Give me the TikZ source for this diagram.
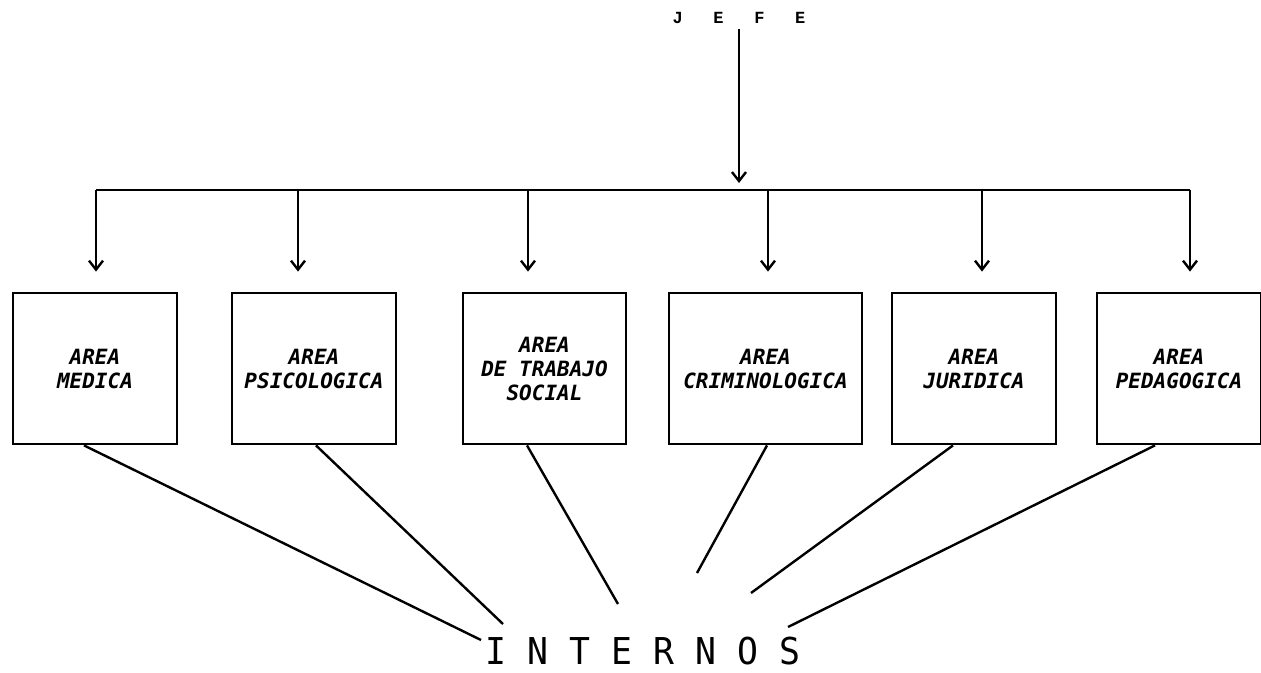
\documentclass[tikz,border=0pt]{standalone}
\usepackage{fontspec}
\usepackage{tikz}
\usetikzlibrary{arrows.meta,positioning,calc}
\newfontfamily\areafont{DejaVu Sans Mono}
\newfontfamily\jefefont{Liberation Mono}
\newfontfamily\internosfont{DejaVu Sans Mono}[FakeStretch=0.94]

\tikzset{
  area/.style={draw, line width=2.8pt, minimum height=151pt, inner sep=0pt, align=center,
    font=\areafont\bfseries\itshape\fontsize{21}{24}\selectfont},
  drop/.style={->, line width=2.4pt, shorten >=20pt},
  link/.style={line width=2.4pt}
}

\begin{document}
\begin{tikzpicture}[x=1pt, y=-1pt, >={Straight Barb[length=9pt,width=14pt]}, thick]
\useasboundingbox[fill=white] (0,0) rectangle (1261,672);
\node[inner sep=0pt, font=\jefefont\bfseries\fontsize{17}{17}\selectfont] (JEFE) at (739,18) {J~~~E~~~F~~~E};
\node[area, minimum width=164pt] (MED) at (95,368.5) {AREA\\MEDICA};
\node[area, minimum width=164pt] (PSI) at (314,368.5) {AREA\\PSICOLOGICA};
\node[area, minimum width=163pt] (TS) at (544.5,368.5) {AREA\\DE TRABAJO\\SOCIAL};
\node[area, minimum width=193pt] (CRI) at (765.5,368.5) {AREA\\CRIMINOLOGICA};
\node[area, minimum width=164pt] (JUR) at (974,368.5) {AREA\\JURIDICA};
\node[area, minimum width=164pt] (PED) at (1179,368.5) {AREA\\PEDAGOGICA};
\node[anchor=base, inner sep=0pt, font=\internosfont\fontsize{37}{37}\selectfont] (INT) at (643,664) {I~N~T~E~R~N~O~S};
% bar under the jefe
\coordinate (d1) at (96,190);
\coordinate (d2) at (298,190);
\coordinate (d3) at (528,190);
\coordinate (d4) at (768,190);
\coordinate (d5) at (982,190);
\coordinate (d6) at (1190,190);
\draw[line width=2.8pt] (d1) -- (d6);
\draw[->, line width=2.4pt, shorten <=5pt, shorten >=7pt] (JEFE.south) -- (JEFE.south |- d1);
\draw[drop] (d1) -- (d1 |- MED.north);
\draw[drop] (d2) -- (d2 |- PSI.north);
\draw[drop] (d3) -- (d3 |- TS.north);
\draw[drop] (d4) -- (d4 |- CRI.north);
\draw[drop] (d5) -- (d5 |- JUR.north);
\draw[drop] (d6) -- (d6 |- PED.north);
% lines down to internos
\coordinate (i1) at (481,640);
\coordinate (i2) at (503,624);
\coordinate (i3) at (618,604);
\coordinate (i4) at (697,573);
\coordinate (i5) at (751,593);
\coordinate (i6) at (788,627);
\draw[link] ([xshift=-11pt]MED.south) -- (i1);
\draw[link] ([xshift=2pt]PSI.south) -- (i2);
\draw[link] ([xshift=-17.5pt]TS.south) -- (i3);
\draw[link] ([xshift=1.5pt]CRI.south) -- (i4);
\draw[link] ([xshift=-21pt]JUR.south) -- (i5);
\draw[link] ([xshift=-24pt]PED.south) -- (i6);
\end{tikzpicture}
\end{document}
